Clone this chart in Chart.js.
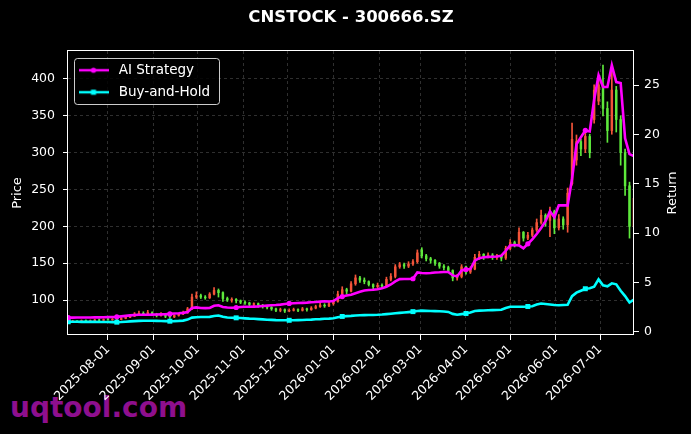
<!DOCTYPE html>
<html lang="en">
<head>
<meta charset="UTF-8" />
<title>CNSTOCK - 300666.SZ</title>
<script src="https://cdn.jsdelivr.net/npm/chart.js"></script>
<style>
  html, body { margin: 0; padding: 0; background: #000; }
  #wrap { position: relative; width: 691px; height: 434px; overflow: hidden; }
  #mark { position: absolute; left: 10px; top: 394px; font: bold 28px "DejaVu Sans", sans-serif; line-height: 1; color: #8e0f8e; }
  #chart { position: absolute; left: 0; top: 0; }
</style>
</head>
<body>
<div id="wrap">
  <div id="mark">uqtool.com</div>
  <canvas id="chart" width="691" height="434"></canvas>
</div>
<script>
// trading dates (sampled)
const dates = [
  '2025-07-05','2025-07-08','2025-07-11','2025-07-14','2025-07-17','2025-07-20','2025-07-23','2025-07-26','2025-07-29','2025-08-01',
  '2025-08-04','2025-08-07','2025-08-10','2025-08-13','2025-08-16','2025-08-19','2025-08-22','2025-08-25','2025-08-28','2025-08-31',
  '2025-09-03','2025-09-06','2025-09-09','2025-09-12','2025-09-15','2025-09-18','2025-09-21','2025-09-24','2025-09-27','2025-09-30',
  '2025-10-03','2025-10-06','2025-10-09','2025-10-12','2025-10-15','2025-10-18','2025-10-21','2025-10-24','2025-10-27','2025-10-30',
  '2025-11-02','2025-11-05','2025-11-08','2025-11-11','2025-11-14','2025-11-17','2025-11-20','2025-11-23','2025-11-26','2025-11-29',
  '2025-12-02','2025-12-05','2025-12-08','2025-12-11','2025-12-14','2025-12-17','2025-12-20','2025-12-23','2025-12-26','2025-12-29',
  '2026-01-01','2026-01-04','2026-01-07','2026-01-10','2026-01-13','2026-01-16','2026-01-19','2026-01-22','2026-01-25','2026-01-28',
  '2026-01-31','2026-02-03','2026-02-06','2026-02-09','2026-02-12','2026-02-15','2026-02-18','2026-02-21','2026-02-24','2026-02-27',
  '2026-03-02','2026-03-05','2026-03-08','2026-03-11','2026-03-14','2026-03-17','2026-03-20','2026-03-23','2026-03-26','2026-03-29',
  '2026-04-01','2026-04-04','2026-04-07','2026-04-10','2026-04-13','2026-04-16','2026-04-19','2026-04-22','2026-04-25','2026-04-28',
  '2026-05-01','2026-05-04','2026-05-07','2026-05-10','2026-05-13','2026-05-16','2026-05-19','2026-05-22','2026-05-25','2026-05-28',
  '2026-05-31','2026-06-03','2026-06-06','2026-06-09','2026-06-12','2026-06-15','2026-06-18','2026-06-21','2026-06-24','2026-06-27',
  '2026-06-30','2026-07-03','2026-07-06','2026-07-09','2026-07-12','2026-07-15','2026-07-18','2026-07-21','2026-07-24'
];

// candles (price axis)
const openPx = [
  71,71,71.5,71,72,71.5,72,73,72.5,73.5,
  73,74,73.5,75,76.5,78,81,82,80.5,83,
  81,79,80,78,77,79,81,82.5,88,104,
  106,104,103,108,113,110,102,100,101,99,
  97,96,94,95,93,91,90,88,86,87,
  85,86,87,86,88,87,89,91,93,92,
  95,98,108,114,112,122,130,127,125,121,
  118,120,119,128,132,145,148,146,149,152,
  168,160,156,154,150,146,144,140,130,132,
  145,138,142,158,162,159,161,158,160,157,
  170,178,176,192,184,188,195,205,215,208,
  220,198,210,202,258,290,315,305,322,345,
  370,392,360,330,385,345,300,255,200
];
const closePx = [
  71,71.5,71,72,71.5,72,73,72.5,73.5,73,
  74,73.5,75,76.5,78,81,82,80.5,83,81,
  79,80,78,77,79,81,82.5,88,104,106,
  104,103,108,113,110,102,100,101,99,97,
  96,94,95,93,91,90,88,86,87,85,
  86,87,86,88,87,89,91,93,92,95,
  98,108,114,112,122,130,127,125,121,118,
  120,119,128,132,145,148,146,149,152,164,
  160,156,154,150,146,144,140,130,132,145,
  138,142,158,162,159,161,158,160,157,170,
  178,176,192,184,188,195,205,215,208,220,
  198,210,202,245,318,315,305,322,300,385,
  392,360,330,385,345,300,255,200,238
];
const highPx = [
  72,72.5,72,73,73,73,74,74,74.5,75,
  75,75,76,78,80,83,85,84,86,84,
  82,83,82,79,80,82,85,90,108,111,
  108,106,110,117,115,111,104,103,102,100,
  99,97,96,96,94,92,91,89,89,88,
  88,89,88,90,89,91,93,96,95,98,
  100,112,118,116,125,134,132,130,126,122,
  123,122,131,136,148,151,150,152,155,168,
  171,162,158,155,151,148,146,141,135,148,
  146,145,162,166,163,164,163,162,161,173,
  182,180,198,193,192,198,210,222,217,226,
  222,216,213,252,340,324,318,328,325,392,
  400,419,369,419,390,350,305,260,252
];
const lowPx = [
  70,70.5,70,70.5,71,71,71.5,72,72,72.5,
  72.5,73,73,74.5,76,77.5,80,79.5,80,79,
  77,78,76,75,76,78,80,82,87,102,
  102,101,102,107,104,98,98,97,96,95,
  94,92,91,90,89,88,86,84,84,83,
  84,85,84,85,85,86,88,90,90,91,
  93,97,106,108,111,120,124,122,119,115,
  116,116,118,126,130,143,143,144,147,150,
  157,153,150,147,143,141,137,126,127,130,
  135,136,141,155,155,157,155,155,153,155,
  168,172,174,180,182,186,193,203,200,186,
  190,195,196,192,256,283,296,300,293,340,
  365,350,314,325,328,283,242,184,195
];

// cumulative returns (return axis)
const aiStrategy = [
  1.42,1.42,1.43,1.43,1.44,1.44,1.45,1.45,1.46,1.47,
  1.48,1.50,1.55,1.60,1.65,1.69,1.71,1.72,1.72,1.73,
  1.74,1.75,1.76,1.80,1.84,1.86,1.90,1.98,2.40,2.46,
  2.40,2.38,2.40,2.62,2.68,2.50,2.45,2.43,2.45,2.50,
  2.52,2.52,2.54,2.56,2.60,2.64,2.68,2.70,2.74,2.80,
  2.86,2.88,2.90,2.92,2.94,2.98,3.00,3.04,3.08,3.05,
  3.10,3.40,3.56,3.66,3.74,3.90,4.05,4.18,4.22,4.25,
  4.30,4.40,4.55,4.78,5.10,5.32,5.33,5.34,5.36,6.00,
  5.95,5.92,5.95,6.00,6.02,6.05,6.05,5.70,5.60,6.20,
  6.30,6.35,7.20,7.45,7.55,7.58,7.60,7.62,7.70,8.20,
  8.75,8.78,8.75,8.45,8.90,9.35,9.90,10.50,11.20,12.20,
  11.60,12.80,12.80,12.80,15.50,19.00,19.70,20.40,20.30,23.50,
  26.00,24.80,24.80,27.00,25.30,25.20,19.60,18.00,17.80
];
const buyHold = [
  1.00,1.00,1.00,0.99,0.99,0.99,0.99,0.98,0.98,0.98,
  0.97,0.96,0.98,1.01,1.04,1.07,1.09,1.10,1.10,1.10,
  1.09,1.08,1.07,1.06,1.07,1.09,1.12,1.22,1.42,1.46,
  1.48,1.48,1.50,1.58,1.64,1.50,1.44,1.41,1.40,1.38,
  1.35,1.32,1.30,1.27,1.24,1.21,1.19,1.17,1.16,1.15,
  1.15,1.16,1.17,1.18,1.20,1.22,1.25,1.27,1.30,1.32,
  1.36,1.46,1.54,1.57,1.60,1.64,1.66,1.67,1.68,1.69,
  1.71,1.74,1.78,1.82,1.86,1.90,1.94,1.98,2.03,2.10,
  2.13,2.11,2.09,2.08,2.06,2.04,2.00,1.80,1.72,1.78,
  1.84,1.95,2.10,2.13,2.15,2.17,2.18,2.19,2.22,2.40,
  2.52,2.53,2.53,2.53,2.55,2.58,2.75,2.85,2.80,2.75,
  2.70,2.68,2.70,2.72,3.60,3.95,4.15,4.35,4.40,4.55,
  5.30,4.70,4.60,4.90,4.80,4.15,3.60,2.95,3.25
];

// tick labels
const monthTicks = ['2025-08-01','2025-09-01','2025-10-01','2025-11-01','2025-12-01','2026-01-01',
                    '2026-02-01','2026-03-01','2026-04-01','2026-05-01','2026-06-01','2026-07-01'];
const priceTicks = [100, 150, 200, 250, 300, 350, 400];
const returnTicks = [0, 5, 10, 15, 20, 25];

// which points carry a marker
const markIdx = [0, 11, 23, 38, 50, 62, 78, 90, 104, 117];

const day0 = Date.UTC(2025, 6, 1);
function toDay(s) {
  const [y, m, d] = s.split('-').map(Number);
  return (Date.UTC(y, m - 1, d) - day0) / 86400000;
}
const xs = dates.map(toDay);
const tickDays = monthTicks.map(toDay);

const UP = '#f4553a', DOWN = '#5ee83c';
const candleColor = closePx.map((c, i) => c >= openPx[i] ? UP : DOWN);

// little line+marker pictures for the legend
function legendSample(color, shape) {
  const c = document.createElement('canvas');
  c.width = 30; c.height = 8;
  const g = c.getContext('2d');
  g.strokeStyle = color; g.lineWidth = 2.4;
  g.beginPath(); g.moveTo(0, 4); g.lineTo(30, 4); g.stroke();
  g.fillStyle = color;
  if (shape === 'circle') { g.beginPath(); g.arc(15, 4, 2.6, 0, Math.PI * 2); g.fill(); }
  else { g.fillRect(12.5, 1.5, 5, 5); }
  return c;
}
const aiSample = legendSample('#ff00ff', 'circle');
const bhSample = legendSample('#00ffff', 'rect');

Chart.defaults.font.family = '"DejaVu Sans", sans-serif';
Chart.defaults.color = '#ffffff';

const gridColor = 'rgba(150,150,150,0.4)';
const rightTitle = 'Return';

const framePlugin = {
  id: 'frame',
  afterLayout(chart) {
    const lg = chart.legend;
    lg.left = chart.chartArea.left - 1.5;
    lg.top = chart.chartArea.top + 4;
  },
  beforeDatasetsDraw(chart) {
    const {ctx, chartArea: ca} = chart;
    ctx.save();
    ctx.beginPath();
    ctx.roundRect(ca.left + 6.5, ca.top + 7.5, 145, 46, 3);
    ctx.fillStyle = 'rgba(0,0,0,0.85)';
    ctx.fill();
    ctx.strokeStyle = 'rgba(255,255,255,0.8)';
    ctx.lineWidth = 1;
    ctx.stroke();
    ctx.restore();
    chart.legend.draw();
  },
  afterDatasetsDraw(chart) {
    const {ctx, chartArea: ca} = chart;
    ctx.save();
    ctx.strokeStyle = '#ffffff';
    ctx.lineWidth = 1;
    ctx.strokeRect(ca.left - 0.5, ca.top - 0.5, ca.width, ca.height);
    // right axis title, read bottom-to-top like the left one
    const s = chart.scales.y2;
    ctx.translate(s.right - 18, (ca.top + ca.bottom) / 2);
    ctx.rotate(-Math.PI / 2);
    ctx.fillStyle = '#ffffff';
    ctx.font = '13px "DejaVu Sans", sans-serif';
    ctx.textAlign = 'center';
    ctx.textBaseline = 'middle';
    ctx.fillText(rightTitle, 0, 0);
    ctx.restore();
  }
};

new Chart(document.getElementById('chart'), {
  type: 'bar',
  data: {
    datasets: [
      {
        type: 'line', label: 'AI Strategy', yAxisID: 'y2', order: 0,
        data: xs.map((x, i) => ({x, y: aiStrategy[i]})),
        borderColor: '#ff00ff', backgroundColor: '#ff00ff', borderWidth: 2.6, tension: 0,
        pointStyle: 'circle', pointBorderWidth: 0,
        pointRadius: ctx => markIdx.includes(ctx.dataIndex) ? 2.6 : 0
      },
      {
        type: 'line', label: 'Buy-and-Hold', yAxisID: 'y2', order: 0,
        data: xs.map((x, i) => ({x, y: buyHold[i]})),
        borderColor: '#00ffff', backgroundColor: '#00ffff', borderWidth: 2.6, tension: 0,
        pointStyle: 'rect', pointBorderWidth: 0,
        pointRadius: ctx => markIdx.includes(ctx.dataIndex) ? 3.5 : 0
      },
      {
        label: 'wick', yAxisID: 'y', order: 2, grouped: false,
        data: xs.map((x, i) => ({x, y: [lowPx[i], highPx[i]]})),
        backgroundColor: candleColor, barThickness: 1
      },
      {
        label: 'body', yAxisID: 'y', order: 2, grouped: false,
        data: xs.map((x, i) => ({x, y: [openPx[i], closePx[i]]})),
        backgroundColor: candleColor, barThickness: 1.8
      }
    ]
  },
  options: {
    responsive: false,
    animation: false,
    layout: { padding: 0 },
    plugins: {
      title: {
        display: true, text: 'CNSTOCK - 300666.SZ', color: '#ffffff', fullSize: false,
        font: { size: 16.5, weight: 'bold' }, padding: { top: 7.8, bottom: 23.4 }
      },
      legend: {
        position: 'chartArea', align: 'start',
        labels: {
          color: '#ffffff', font: { size: 13.5 }, padding: 8.5,
          usePointStyle: true, pointStyleWidth: 37,
          generateLabels: chart => [
            { text: chart.data.datasets[0].label, pointStyle: aiSample, datasetIndex: 0, lineWidth: 0, fontColor: '#ffffff', hidden: false },
            { text: chart.data.datasets[1].label, pointStyle: bhSample, datasetIndex: 1, lineWidth: 0, fontColor: '#ffffff', hidden: false }
          ]
        }
      },
      tooltip: { enabled: false }
    },
    scales: {
      x: {
        type: 'linear', min: 3.85, max: 388.05, offset: false,
        afterBuildTicks: s => { s.ticks = tickDays.map(v => ({value: v})); },
        afterFit: s => { s.height = 99; },
        ticks: {
          color: '#ffffff', font: { size: 12.5 }, autoSkip: false,
          minRotation: 45, maxRotation: 45, padding: 2,
          callback: v => { const k = tickDays.indexOf(v); return k >= 0 ? monthTicks[k] : ''; }
        },
        grid: { offset: false, color: gridColor, lineWidth: 0.8, tickColor: '#ffffff', tickLength: 5, tickWidth: 1, tickBorderDash: [] },
        border: { display: false, dash: [3, 3] }
      },
      y: {
        type: 'linear', position: 'left', min: 52.5, max: 438,
        afterBuildTicks: s => { s.ticks = priceTicks.map(v => ({value: v})); },
        afterFit: s => { s.width = 68; },
        ticks: { color: '#ffffff', font: { size: 12.5 }, padding: 8 },
        grid: { color: gridColor, lineWidth: 0.8, tickColor: '#ffffff', tickLength: 5, tickWidth: 1, tickBorderDash: [] },
        border: { display: false, dash: [3, 3] },
        title: { display: true, text: 'Price', color: '#ffffff', font: { size: 13 }, padding: { top: 10, bottom: 0 } }
      },
      y2: {
        type: 'linear', position: 'right', min: -0.34, max: 28.45,
        afterBuildTicks: s => { s.ticks = returnTicks.map(v => ({value: v})); },
        afterFit: s => { s.width = 57; },
        ticks: { color: '#ffffff', font: { size: 12.5 }, padding: 5 },
        grid: { drawOnChartArea: false, tickColor: '#ffffff', tickLength: 5, tickWidth: 1 },
        border: { display: false }
      }
    }
  },
  plugins: [framePlugin]
});
</script>
</body>
</html>
